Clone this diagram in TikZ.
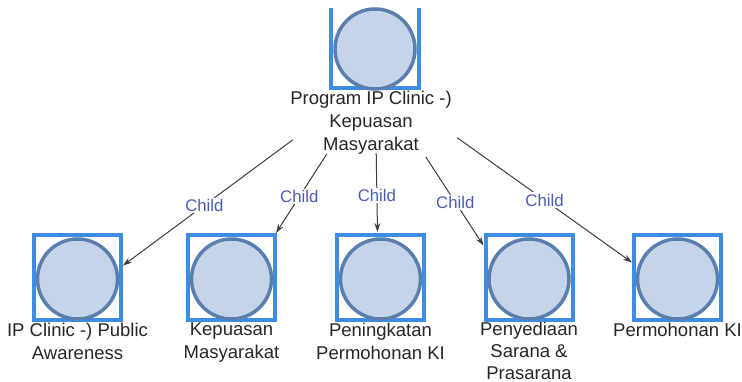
\documentclass[tikz,border=0pt]{standalone}
\usepackage{fontspec}
\setmainfont{Liberation Sans}
\usetikzlibrary{arrows.meta,calc}
\definecolor{sqblue}{HTML}{3C8DE3}
\definecolor{ballline}{HTML}{5A7FAF}
\definecolor{ballfill}{HTML}{C6D4EA}
\definecolor{lbltext}{HTML}{262626}
\definecolor{edgecol}{HTML}{3A3F45}
\definecolor{childcol}{HTML}{4B5DAE}
\begin{document}
\begin{tikzpicture}[x=1pt,y=-1pt,
  sq/.style={rectangle,draw=sqblue,line width=4pt,minimum width=87pt,minimum height=85pt,inner sep=0pt},
  ball/.style={circle,draw=ballline,fill=ballfill,line width=3.5pt,minimum size=80pt,inner sep=0pt},
  lbl/.style={align=center,anchor=north,inner sep=0pt,text=lbltext,font=\fontsize{18.5}{23}\selectfont},
  edge/.style={draw=edgecol,line width=1pt,-{Stealth[length=9pt,width=6pt]}},
  elbl/.style={fill=white,inner sep=1.5pt,text=childcol,font=\fontsize{16.8}{18}\selectfont}
]
\useasboundingbox (0,0) rectangle (742,382);

% labels (drawn first: squares overlap their tops)
\node[lbl] (tl) at (371,91) {Program IP Clinic -)\\Kepuasan\\Masyarakat};
\node[lbl] (l1) at (77.5,323) {IP Clinic -) Public\\Awareness};
\node[lbl] (l2) at (231.5,323) {Kepuasan\\Masyarakat};
\node[lbl] (l3) at (380.5,323) {Peningkatan\\Permohonan KI};
\node[lbl,font=\fontsize{18.5}{22}\selectfont] (l4) at (529,322) {Penyediaan\\Sarana \&\\Prasarana};
\node[lbl] (l5) at (677.5,323) {Permohonan KI};

% top node (top edge cut off)
\node[rectangle,minimum width=87pt,minimum height=80pt,inner sep=0pt] (ts) at (375,48) {};
\draw[draw=sqblue,line width=4pt] (ts.north west) -- (ts.south west) -- (ts.south east) -- (ts.north east);
\node[ball] (tb) at (375,49) {};

% child nodes
\node[sq] (s1) at (77.5,277.5) {};
\node[ball] (b1) at (77.5,279) {};
\node[sq] (s2) at (231.5,277.5) {};
\node[ball] (b2) at (231.5,279) {};
\node[sq] (s3) at (380.5,277.5) {};
\node[ball] (b3) at (380.5,279) {};
\node[sq] (s4) at (529,277.5) {};
\node[ball] (b4) at (529,279) {};
\node[sq] (s5) at (677.5,277.5) {};
\node[ball] (b5) at (677.5,279) {};

% connector end points
\coordinate (hub) at (375,79);
\coordinate (e1) at ($(s1.east)+(0,-12)$);
\coordinate (e2) at ($(s2.north east)+(-1,0)$);
\coordinate (e3) at ($(s3.north)+(-3,-1)$);
\coordinate (e4) at ($(s4.west)+(0,-32)$);
\coordinate (e5) at ($(s5.west)+(0,-15)$);

\draw[edge,shorten <=102pt] (hub) -- node[elbl,pos=0.677]{Child} (e1);
\draw[edge,shorten <=89pt] (hub) -- node[elbl,pos=0.765]{Child} (e2);
\draw[edge,shorten <=74pt] (hub) -- node[elbl,pos=0.763]{Child} (e3);
\draw[edge,shorten <=93pt] (hub) -- node[elbl,pos=0.74]{Child} (e4);
\draw[edge,shorten <=101pt] (hub) -- node[elbl,pos=0.66]{Child} (e5);
\end{tikzpicture}
\end{document}
